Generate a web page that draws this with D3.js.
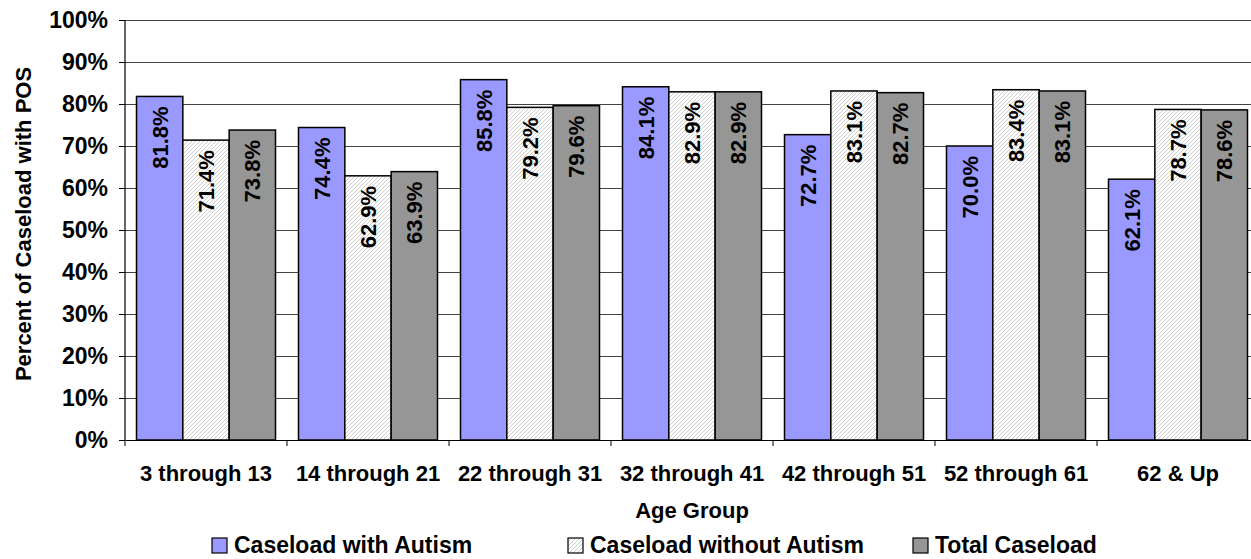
<!DOCTYPE html>
<html>
<head>
<meta charset="utf-8">
<script src="https://cdn.jsdelivr.net/npm/d3@7"></script>
<style>
  html, body { margin: 0; padding: 0; background: #fff; }
  svg { display: block; font-family: "Liberation Sans", Arial, sans-serif; font-weight: bold; }
</style>
</head>
<body>
<svg id="chart" width="1251" height="559"></svg>
<script>
// Age groups along the x axis
const categories = ["3 through 13", "14 through 21", "22 through 31", "32 through 41", "42 through 51", "52 through 61", "62 & Up"];
// Series names (legend order)
const seriesNames = ["Caseload with Autism", "Caseload without Autism", "Total Caseload"];
// Percent of caseload with POS, per age group
const withAutism    = [81.8, 74.4, 85.8, 84.1, 72.7, 70.0, 62.1];
const withoutAutism = [71.4, 62.9, 79.2, 82.9, 83.1, 83.4, 78.7];
const totalCaseload = [73.8, 63.9, 79.6, 82.9, 82.7, 83.1, 78.6];
// Y axis ticks
const yTicks = [0, 10, 20, 30, 40, 50, 60, 70, 80, 90, 100];

const seriesValues = [withAutism, withoutAutism, totalCaseload];

const svg = d3.select("#chart");
const plot = { left: 125, top: 20, width: 1134, height: 420 };

const defs = svg.append("defs");
const hatch = defs.append("pattern")
  .attr("id", "hatch")
  .attr("patternUnits", "userSpaceOnUse")
  .attr("width", 4).attr("height", 4);
hatch.append("rect").attr("width", 4).attr("height", 4).attr("fill", "#fff");
hatch.append("path")
  .attr("d", "M-1,1 l2,-2 M0,4 l4,-4 M3,5 l2,-2")
  .attr("stroke", "#c4c4c4").attr("stroke-width", 0.85);

const fills = ["#9999ff", "url(#hatch)", "#969696"];

const x = d3.scaleBand().domain(categories).range([plot.left, plot.left + plot.width]).padding(0);
const xs = d3.scaleBand().domain(seriesNames).range([11.5, x.bandwidth() - 11.5]).padding(0);
const y = d3.scaleLinear().domain([0, 100]).range([plot.top + plot.height, plot.top]);

// Horizontal gridlines
svg.append("g")
  .selectAll("line")
  .data(yTicks.filter(d => d > 0))
  .join("line")
  .attr("x1", plot.left).attr("x2", plot.left + plot.width)
  .attr("y1", d => y(d)).attr("y2", d => y(d))
  .attr("stroke", "#444").attr("stroke-width", 1)
  .attr("shape-rendering", "crispEdges");

// Bars
const rows = categories.map((c, i) => seriesNames.map((s, j) => ({ cat: c, series: s, j, value: seriesValues[j][i] })));
const groups = svg.append("g").selectAll("g")
  .data(rows)
  .join("g")
  .attr("transform", d => `translate(${x(d[0].cat)},0)`);

groups.selectAll("rect")
  .data(d => d)
  .join("rect")
  .attr("x", d => xs(d.series))
  .attr("y", d => y(d.value))
  .attr("width", xs.bandwidth())
  .attr("height", d => y(0) - y(d.value))
  .attr("fill", d => fills[d.j])
  .attr("stroke", "#000")
  .attr("stroke-width", 1.5);

// Value labels, rotated, inside the top of each bar
groups.selectAll("text")
  .data(d => d)
  .join("text")
  .attr("transform", d => `translate(${xs(d.series) + xs.bandwidth() / 2},${y(d.value) + 10}) rotate(-90)`)
  .attr("text-anchor", "end")
  .attr("dy", "0.36em")
  .attr("font-size", 22)
  .attr("fill", "#000")
  .text(d => d.value.toFixed(1) + "%");

// Y axis
const yAxis = d3.axisLeft(y).tickValues(yTicks).tickFormat(d => d + "%").tickSize(6).tickPadding(11);
const gy = svg.append("g").attr("transform", `translate(${plot.left},0)`).call(yAxis);
gy.select(".domain").attr("stroke", "#000").attr("stroke-width", 1.2).attr("d", `M0,${plot.top}V${plot.top + plot.height}`);
gy.selectAll(".tick line").attr("stroke", "#000");
gy.selectAll(".tick text").attr("font-size", 23).attr("font-family", null).attr("font-weight", "bold").attr("fill", "#000");

// X axis
const xAxis = d3.axisBottom(x).tickSize(0).tickPadding(0).tickFormat(d => d);
const gx = svg.append("g").attr("transform", `translate(0,${plot.top + plot.height})`).call(xAxis);
gx.select(".domain").attr("stroke", "#000").attr("stroke-width", 1.2);
gx.selectAll(".tick text").attr("font-size", 22).attr("font-family", null).attr("font-weight", "bold")
  .attr("fill", "#000").attr("dy", null).attr("y", 41);
// Category separator ticks
gx.append("g").selectAll("line")
  .data(categories.map(c => x(c)).concat([plot.left + plot.width]))
  .join("line")
  .attr("x1", d => d).attr("x2", d => d)
  .attr("y1", 0).attr("y2", 6)
  .attr("stroke", "#000");

// Axis titles
svg.append("text")
  .attr("x", plot.left + plot.width / 2).attr("y", 518)
  .attr("text-anchor", "middle").attr("font-size", 22)
  .text("Age Group");
svg.append("text")
  .attr("transform", `translate(31,${plot.top + plot.height / 2 - 6}) rotate(-90)`)
  .attr("text-anchor", "middle").attr("font-size", 22)
  .text("Percent of Caseload with POS");

// Legend
const legendX = [212, 568, 913];
const legend = svg.append("g").selectAll("g")
  .data(seriesNames)
  .join("g")
  .attr("transform", (d, i) => `translate(${legendX[i]},538)`);
legend.append("rect")
  .attr("width", 15).attr("height", 15)
  .attr("fill", (d, i) => fills[i])
  .attr("stroke", "#000").attr("stroke-width", 1.2);
legend.append("text")
  .attr("x", 22).attr("y", 15)
  .attr("font-size", 23)
  .text(d => d);
</script>
</body>
</html>
